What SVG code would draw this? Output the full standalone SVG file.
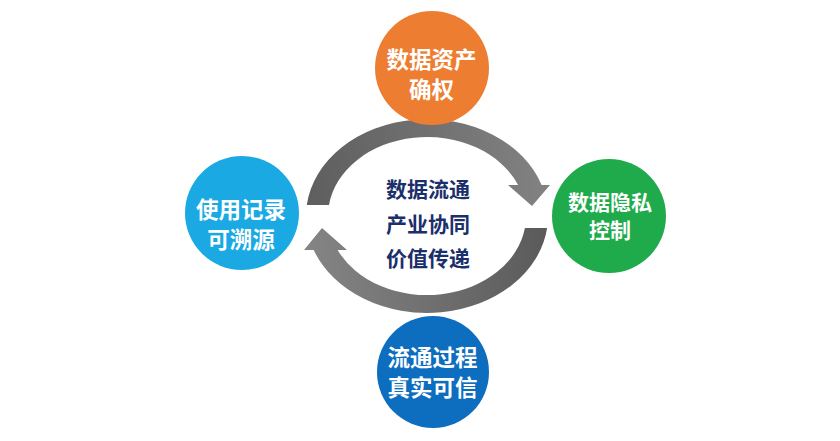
<svg xmlns="http://www.w3.org/2000/svg" width="840" height="441" viewBox="0 0 840 441">
  <style>
    .lbl { font-family: "Noto Sans CJK SC", "Noto Sans", sans-serif; font-weight: 700; fill: #ffffff; text-anchor: middle; dominant-baseline: central; }
    .ctr { font-family: "Noto Sans CJK SC", "Noto Sans", sans-serif; font-weight: 700; fill: #1B2F6A; text-anchor: middle; dominant-baseline: central; font-size: 21px; }
  </style>
  <defs>
    <linearGradient id="gTop" gradientUnits="userSpaceOnUse" x1="306" y1="205" x2="550" y2="190">
      <stop offset="0" stop-color="#5E5E5E"/>
      <stop offset="1" stop-color="#828282"/>
    </linearGradient>
    <linearGradient id="gBot" gradientUnits="userSpaceOnUse" x1="547" y1="228" x2="304" y2="245">
      <stop offset="0" stop-color="#5A5A5A"/>
      <stop offset="1" stop-color="#858585"/>
    </linearGradient>
  </defs>
  <rect width="840" height="441" fill="#ffffff"/>

  <g id="connectors">
    <path d="M 306.8 205 A 121 97 0 0 1 541.6 185 L 550 185 L 532 206 L 508 185 L 518.1 185 A 99 79 0 0 0 329 205 Z" fill="url(#gTop)"/>
    <path d="M 547.1 228 A 121 97 0 0 1 313.7 250 L 304 250 L 322 228 L 347 250 L 337.6 250 A 99 79 0 0 0 524.9 228 Z" fill="url(#gBot)"/>
  </g>

  <g id="center-text">
    <text class="ctr"><tspan x="428" y="187.5">数据流通</tspan><tspan x="428" y="222.5">产业协同</tspan><tspan x="428" y="257">价值传递</tspan></text>
  </g>

  <g id="node-top">
    <circle cx="432" cy="68" r="57" fill="#ED7D31"/>
    <text class="lbl" font-size="22.5"><tspan x="431.5" y="57.5">数据资产</tspan><tspan x="431.5" y="87.5">确权</tspan></text>
  </g>

  <g id="node-right">
    <circle cx="609" cy="216" r="57" fill="#1FAA4B"/>
    <text class="lbl" font-size="21"><tspan x="610" y="200.5">数据隐私</tspan><tspan x="610" y="228.5">控制</tspan></text>
  </g>

  <g id="node-left">
    <circle cx="242" cy="213" r="57" fill="#1AA9E2"/>
    <text class="lbl" font-size="22.5"><tspan x="241" y="207.5">使用记录</tspan><tspan x="241" y="237.5">可溯源</tspan></text>
  </g>

  <g id="node-bottom">
    <circle cx="433" cy="372" r="56" fill="#0D6DBF"/>
    <text class="lbl" font-size="22.5"><tspan x="432.5" y="355.5">流通过程</tspan><tspan x="432.5" y="385.5">真实可信</tspan></text>
  </g>
</svg>
